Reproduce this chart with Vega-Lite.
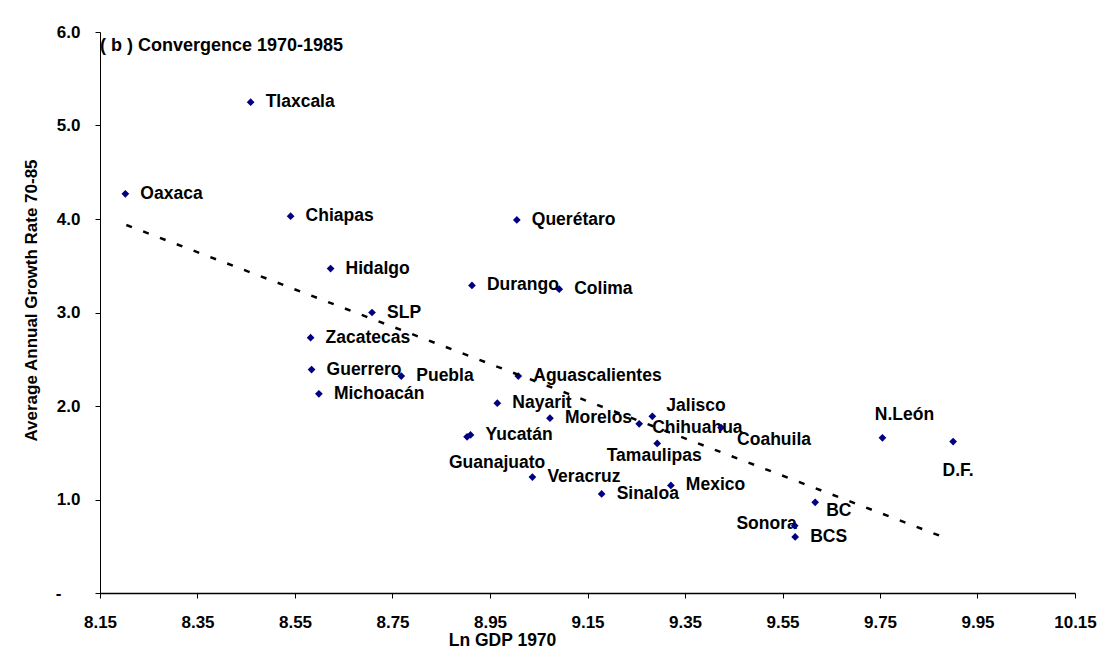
{
  "$schema": "https://vega.github.io/schema/vega-lite/v6.json",
  "autosize": {"type": "none"},
  "padding": {"left": 100, "top": 32, "right": 26, "bottom": 78},
  "width": 975,
  "height": 561,
  "background": "white",
  "config": {
    "view": {"stroke": null},
    "font": "Liberation Sans",
    "text": {"font": "Liberation Sans", "fontWeight": "bold", "fontSize": 17.5, "color": "black"}
  },
  "datasets": {
    "states": [
      {"state": "Oaxaca", "gdp": 8.202, "growth": 4.27},
      {"state": "Tlaxcala", "gdp": 8.459, "growth": 5.25},
      {"state": "Chiapas", "gdp": 8.541, "growth": 4.03},
      {"state": "Hidalgo", "gdp": 8.623, "growth": 3.47},
      {"state": "SLP", "gdp": 8.708, "growth": 3.0},
      {"state": "Zacatecas", "gdp": 8.582, "growth": 2.73},
      {"state": "Guerrero", "gdp": 8.584, "growth": 2.39},
      {"state": "Michoacán", "gdp": 8.599, "growth": 2.13},
      {"state": "Puebla", "gdp": 8.768, "growth": 2.32},
      {"state": "Querétaro", "gdp": 9.005, "growth": 3.99},
      {"state": "Durango", "gdp": 8.913, "growth": 3.29},
      {"state": "Colima", "gdp": 9.092, "growth": 3.25},
      {"state": "Aguascalientes", "gdp": 9.008, "growth": 2.32},
      {"state": "Nayarit", "gdp": 8.965, "growth": 2.03},
      {"state": "Morelos", "gdp": 9.073, "growth": 1.87},
      {"state": "Jalisco", "gdp": 9.283, "growth": 1.89},
      {"state": "Chihuahua", "gdp": 9.256, "growth": 1.81},
      {"state": "Coahuila", "gdp": 9.424, "growth": 1.77},
      {"state": "Tamaulipas", "gdp": 9.293, "growth": 1.6},
      {"state": "Yucatán", "gdp": 8.91, "growth": 1.69},
      {"state": "Guanajuato", "gdp": 8.903, "growth": 1.67},
      {"state": "Veracruz", "gdp": 9.037, "growth": 1.24},
      {"state": "Mexico", "gdp": 9.321, "growth": 1.15},
      {"state": "Sinaloa", "gdp": 9.179, "growth": 1.06},
      {"state": "N.León", "gdp": 9.755, "growth": 1.66},
      {"state": "D.F.", "gdp": 9.9, "growth": 1.62},
      {"state": "BC", "gdp": 9.617, "growth": 0.97},
      {"state": "Sonora", "gdp": 9.575, "growth": 0.72},
      {"state": "BCS", "gdp": 9.576, "growth": 0.6}
    ],
    "trend": [
      {"gdp": 8.204, "growth": 3.936},
      {"gdp": 9.883, "growth": 0.592}
    ],
    "heading": [
      {"gdp": 8.15, "growth": 5.85, "label": "( b ) Convergence 1970-1985"}
    ]
  },
  "encoding": {
    "x": {
      "field": "gdp", "type": "quantitative",
      "scale": {"domain": [8.15, 10.15], "nice": false, "zero": false},
      "axis": {
        "title": "Ln GDP 1970",
        "values": [8.15, 8.35, 8.55, 8.75, 8.95, 9.15, 9.35, 9.55, 9.75, 9.95, 10.15],
        "format": ".2f",
        "grid": false,
        "domainColor": "black", "domainWidth": 1.5,
        "tickColor": "black", "tickSize": 5, "tickWidth": 1,
        "labelFont": "Liberation Sans", "labelFontWeight": "bold", "labelFontSize": 17, "labelColor": "black",
        "labelPadding": 16, "labelFlush": false,
        "titleFont": "Liberation Sans", "titleFontWeight": "bold", "titleFontSize": 17.5, "titleColor": "black",
        "titleX": 402, "titleY": 47, "titleAlign": "center", "titleBaseline": "middle", "titleAnchor": null
      }
    },
    "y": {
      "field": "growth", "type": "quantitative",
      "scale": {"domain": [0, 6], "nice": false},
      "axis": {
        "title": "Average Annual Growth Rate 70-85",
        "values": [0, 1, 2, 3, 4, 5, 6],
        "labelExpr": "datum.value == 0 ? '-' : format(datum.value, '.1f')",
        "grid": false,
        "domainColor": "black", "domainWidth": 1,
        "tickColor": "black", "tickSize": 5, "tickWidth": 1,
        "labelFont": "Liberation Sans", "labelFontWeight": "bold", "labelFontSize": 17, "labelColor": "black",
        "labelPadding": {"condition": {"test": "datum.value == 0", "value": 34}, "value": 15},
        "titleFont": "Liberation Sans", "titleFontWeight": "bold", "titleFontSize": 17, "titleColor": "black",
        "titleX": -69, "titleY": 268, "titleAlign": "center", "titleBaseline": "middle", "titleAngle": 270
      }
    }
  },
  "layer": [
    {
      "data": {"name": "states"},
      "transform": [{"filter": {"not": {"field": "state", "oneOf": ["Tamaulipas", "Guanajuato", "Sonora", "N.León", "D.F.", "Jalisco", "Coahuila", "BC", "Chihuahua"]}}}],
      "mark": {"type": "text", "align": "left", "baseline": "middle", "dx": 15},
      "encoding": {"text": {"field": "state"}}
    },
    {
      "data": {"name": "states"},
      "transform": [{"filter": {"field": "state", "equal": "Tamaulipas"}}],
      "mark": {"type": "text", "align": "center", "baseline": "middle", "dx": -3, "dy": 13},
      "encoding": {"text": {"field": "state"}}
    },
    {
      "data": {"name": "states"},
      "transform": [{"filter": {"field": "state", "equal": "Guanajuato"}}],
      "mark": {"type": "text", "align": "center", "baseline": "middle", "dx": 30, "dy": 26},
      "encoding": {"text": {"field": "state"}}
    },
    {
      "data": {"name": "states"},
      "transform": [{"filter": {"field": "state", "equal": "Sonora"}}],
      "mark": {"type": "text", "align": "right", "baseline": "middle", "dx": 2, "dy": -2},
      "encoding": {"text": {"field": "state"}}
    },
    {
      "data": {"name": "states"},
      "transform": [{"filter": {"field": "state", "equal": "N.León"}}],
      "mark": {"type": "text", "align": "center", "baseline": "middle", "dx": 22, "dy": -23},
      "encoding": {"text": {"field": "state"}}
    },
    {
      "data": {"name": "states"},
      "transform": [{"filter": {"field": "state", "equal": "D.F."}}],
      "mark": {"type": "text", "align": "center", "baseline": "middle", "dx": 5, "dy": 29},
      "encoding": {"text": {"field": "state"}}
    },
    {
      "data": {"name": "states"},
      "transform": [{"filter": {"field": "state", "equal": "Jalisco"}}],
      "mark": {"type": "text", "align": "left", "baseline": "middle", "dx": 14, "dy": -10},
      "encoding": {"text": {"field": "state"}}
    },
    {
      "data": {"name": "states"},
      "transform": [{"filter": {"field": "state", "equal": "Coahuila"}}],
      "mark": {"type": "text", "align": "left", "baseline": "middle", "dx": 16, "dy": 12},
      "encoding": {"text": {"field": "state"}}
    },
    {
      "data": {"name": "states"},
      "transform": [{"filter": {"field": "state", "equal": "BC"}}],
      "mark": {"type": "text", "align": "left", "baseline": "middle", "dx": 11, "dy": 9},
      "encoding": {"text": {"field": "state"}}
    },
    {
      "data": {"name": "states"},
      "transform": [{"filter": {"field": "state", "equal": "Chihuahua"}}],
      "mark": {"type": "text", "align": "left", "baseline": "middle", "dx": 13, "dy": 4},
      "encoding": {"text": {"field": "state"}}
    },
    {
      "data": {"name": "states"},
      "mark": {"type": "point", "shape": "diamond", "filled": true, "size": 60, "color": "#000080", "opacity": 1}
    },
    {
      "data": {"name": "trend"},
      "mark": {"type": "line", "color": "black", "strokeWidth": 2.5, "strokeDash": [6, 12]},
      "encoding": {}
    },
    {
      "data": {"name": "heading"},
      "mark": {"type": "text", "align": "left", "baseline": "middle", "fontSize": 18},
      "encoding": {"text": {"field": "label"}}
    }
  ]
}
